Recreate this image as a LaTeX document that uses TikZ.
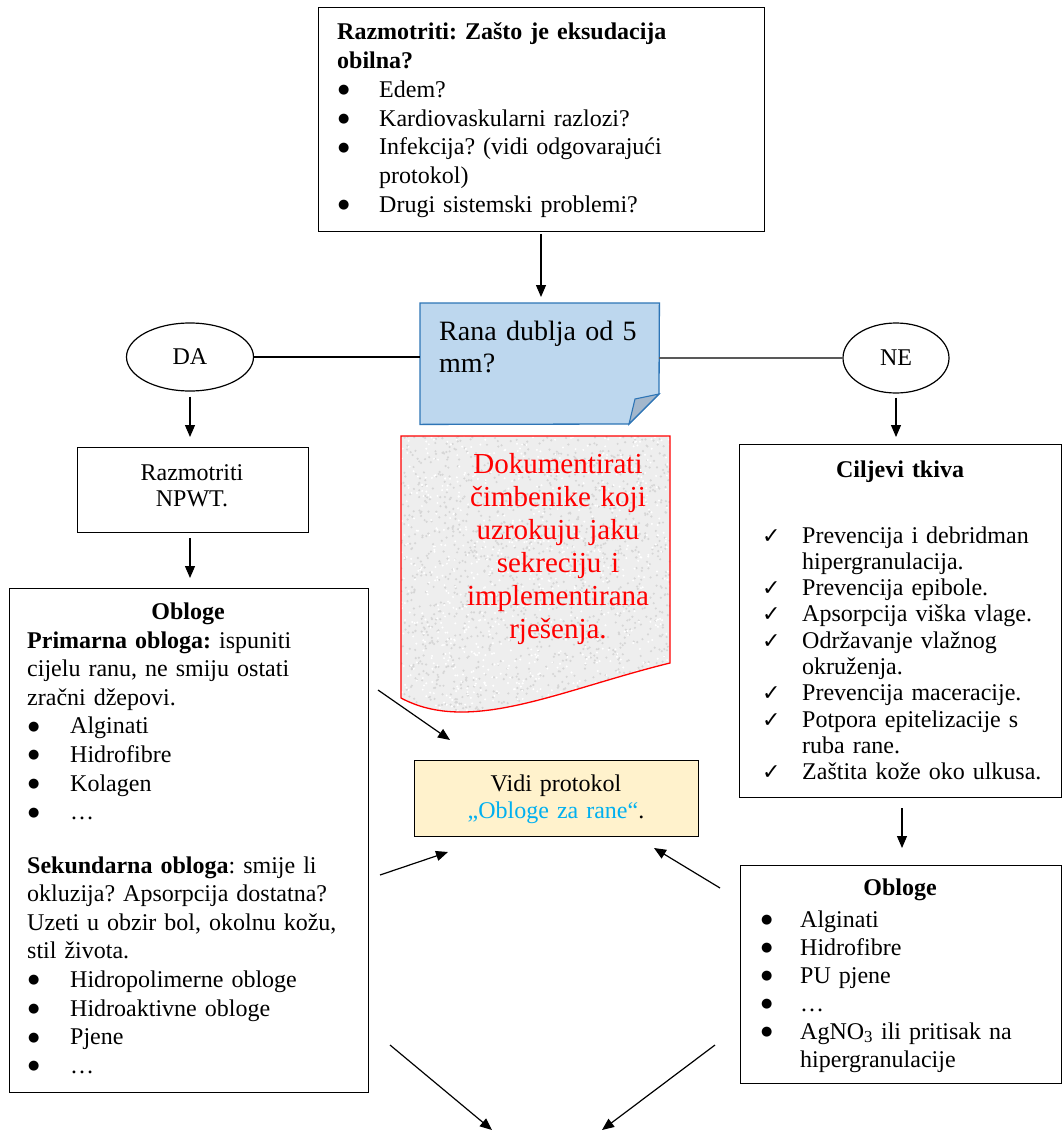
\documentclass[tikz,border=0pt]{standalone}
\usepackage{fontspec}
\setmainfont{Liberation Serif}
\newfontfamily\symfont{DejaVu Sans}
\usetikzlibrary{arrows.meta,shapes.geometric}
\definecolor{notefill}{HTML}{BDD7EE}
\definecolor{noteline}{HTML}{2E75B6}
\definecolor{notefold}{HTML}{A3B7CC}
\definecolor{yel}{HTML}{FFF2CC}
\definecolor{lnk}{HTML}{00B0F0}
\definecolor{redline}{HTML}{FF0000}
\definecolor{grayline}{HTML}{595959}
\frenchspacing
\newcommand{\mybul}[1]{\makebox[#1][l]{\hspace*{1pt}\raisebox{3.5pt}{\symfont\fontsize{13}{13}\selectfont ●}}}
\newcommand{\mychk}{\makebox[40pt][l]{{\symfont\fontsize{22}{22}\selectfont ✓}}}
\tikzset{
  box/.style={draw, line width=1.2pt, inner sep=0pt, anchor=north west},
  txt/.style={inner sep=0pt, anchor=base west, align=left, text width=#1},
  ctxt/.style={inner sep=0pt, anchor=base, align=center, text width=#1},
  arr/.style={line width=1.2pt, -{Triangle[length=12pt,width=10pt]}},
  oval/.style={draw, ellipse, line width=1.2pt, inner sep=0pt, font=\fontsize{24}{28}\selectfont}
}
\begin{document}
\begin{tikzpicture}[x=1pt,y=-1pt]
\useasboundingbox[fill=white] (0,0) rectangle (1062,1132);

% ---- top box
\node[box, minimum width=446pt, minimum height=224pt] (top) at (318,7) {};
\node[txt=430pt, font=\fontsize{24}{28.7}\selectfont] (toptxt) at (337,40)
 {\textbf{Razmotriti: Zašto je eksudacija}\\
  \textbf{obilna?}\\
  \mybul{42pt}Edem?\\
  \mybul{42pt}Kardiovaskularni razlozi?\\
  \mybul{42pt}Infekcija? (vidi odgovarajući\\
  \hspace*{42pt}protokol)\\
  \mybul{42pt}Drugi sistemski problemi?};

% ---- blue note
\node[inner sep=0pt, minimum width=239pt, minimum height=121pt, anchor=north west] (rana) at (420,303) {};
\draw[fill=notefill, draw=noteline, line width=1.3pt]
  (rana.north west) -- (rana.north east) -- (659,394) -- (629,424) -- (rana.south west) -- cycle;
\draw[fill=notefold, draw=noteline, line width=1.1pt] (659,394) -- (635,399) -- (629,424) -- cycle;
\node[txt=230pt, font=\fontsize{28}{32}\selectfont] (ranatxt) at (439,340) {Rana dublja od 5\\mm?};

% ---- DA / NE
\node[oval, minimum width=127pt, minimum height=68pt] (DA) at (190,357) {DA};
\node[oval, minimum width=106pt, minimum height=70pt] (NE) at (896,358) {NE};
\draw[line width=1.2pt] (DA.east) -- (DA.east -| rana.west);
\draw[line width=1.2pt, grayline] (NE.west -| rana.east) -- (NE.west);

% ---- NPWT
\node[box, minimum width=231pt, minimum height=85pt] (npwt) at (77,447) {};
\node[ctxt=220pt, font=\fontsize{24}{26}\selectfont] (npwttxt) at (192,480) {Razmotriti\\NPWT.};

% ---- red document
\node[inner sep=0pt, minimum width=269pt, minimum height=262pt, anchor=north west] (doc) at (401,436) {};
\begin{scope}
\clip (401,436) -- (670,436) -- (670,663) .. controls (560,690) and (470,735) .. (401,698) -- cycle;
\fill[gray!13] (401,436) rectangle (670,716);
\pgfmathsetseed{42}
\foreach \i in {1,...,1500}{\fill[gray!32] ({401+269*rnd},{436+280*rnd}) circle (1.2pt);}
\foreach \i in {1,...,900}{\fill[white] ({401+269*rnd},{436+280*rnd}) circle (1.1pt);}
\end{scope}
\draw[redline, line width=1.3pt] (401,436) -- (670,436) -- (670,663) .. controls (560,690) and (470,735) .. (401,698) -- cycle;
\node[ctxt=260pt, font=\fontsize{29}{33}\selectfont, text=redline] (doctxt) at (558,473)
 {Dokumentirati\\čimbenike koji\\uzrokuju jaku\\sekreciju i\\implementirana\\rješenja.};

% ---- Ciljevi tkiva
\node[box, minimum width=322pt, minimum height=353pt] (cilj) at (739,444) {};
\node[ctxt=300pt, font=\bfseries\fontsize{24}{28}\selectfont] (ciljtit) at (900,477) {Ciljevi tkiva};
\node[txt=300pt, font=\fontsize{24}{26.3}\selectfont] (ciljtxt) at (762,543)
 {\mychk Prevencija i debridman\\
  \hspace*{40pt}hipergranulacija.\\
  \mychk Prevencija epibole.\\
  \mychk Apsorpcija viška vlage.\\
  \mychk Održavanje vlažnog\\
  \hspace*{40pt}okruženja.\\
  \mychk Prevencija maceracije.\\
  \mychk Potpora epitelizacije s\\
  \hspace*{40pt}ruba rane.\\
  \mychk Zaštita kože oko ulkusa.};

% ---- yellow box
\node[box, fill=yel, minimum width=284pt, minimum height=76pt] (yel) at (414,760) {};
\node[ctxt=280pt, font=\fontsize{24}{27}\selectfont] (yeltxt) at (556,791)
 {Vidi protokol\\{\color{lnk}„Obloge za rane“}.};

% ---- left Obloge
\node[box, minimum width=359pt, minimum height=504pt] (lob) at (9,588) {};
\node[ctxt=340pt, font=\bfseries\fontsize{24}{28}\selectfont] (lobtit) at (188,619) {Obloge};
\node[txt=340pt, font=\fontsize{24}{28.6}\selectfont] (lobtxt) at (27,648)
 {\textbf{Primarna obloga:} ispuniti\\
  cijelu ranu, ne smiju ostati\\
  zračni džepovi.\\
  \mybul{43pt}Alginati\\
  \mybul{43pt}Hidrofibre\\
  \mybul{43pt}Kolagen\\
  \mybul{43pt}…\\[24.8pt]
  \textbf{Sekundarna obloga}: smije li\\
  okluzija? Apsorpcija dostatna?\\
  Uzeti u obzir bol, okolnu kožu,\\
  stil života.\\
  \mybul{43pt}Hidropolimerne obloge\\
  \mybul{43pt}Hidroaktivne obloge\\
  \mybul{43pt}Pjene\\
  \mybul{43pt}…};

% ---- right Obloge
\node[box, minimum width=321pt, minimum height=218pt] (rob) at (740,865) {};
\node[ctxt=300pt, font=\bfseries\fontsize{24}{28}\selectfont] (robtit) at (900,895) {Obloge};
\node[txt=300pt, font=\fontsize{24}{28}\selectfont] (robtxt) at (760,927)
 {\mybul{40pt}Alginati\\
  \mybul{40pt}Hidrofibre\\
  \mybul{40pt}PU pjene\\
  \mybul{40pt}…\\
  \mybul{40pt}AgNO\textsubscript{3} ili pritisak na\\
  \hspace*{40pt}hipergranulacije};

% ---- vertical arrows
\draw[arr, shorten <=2pt, shorten >=6pt] (top.south -| 541,0) -- (rana.north -| 541,0);
\draw[arr, shorten <=5pt, shorten >=10pt] (DA.south) -- (DA.south |- npwt.north);
\draw[arr, shorten <=5pt, shorten >=10pt] (npwt.south -| DA.south) -- (DA.south |- lob.north);
\draw[arr, shorten <=4pt, shorten >=7pt] (NE.south) -- (NE.south |- cilj.north);
\draw[arr, shorten <=10pt, shorten >=17pt] (cilj.south -| 902,0) -- (rob.north -| 902,0);

% ---- diagonal arrows
\coordinate (a1s) at (378,690); \coordinate (a1e) at (450,740);
\coordinate (a2s) at (380,875); \coordinate (a2e) at (448,852);
\coordinate (a3s) at (720,888); \coordinate (a3e) at (654,848);
\coordinate (b1s) at (390,1045); \coordinate (b1e) at (492,1130);
\coordinate (b2s) at (715,1045); \coordinate (b2e) at (602,1130);
\draw[arr] (a1s) -- (a1e);
\draw[arr] (a2s) -- (a2e);
\draw[arr] (a3s) -- (a3e);
\draw[arr] (b1s) -- (b1e);
\draw[arr] (b2s) -- (b2e);
\end{tikzpicture}
\end{document}
